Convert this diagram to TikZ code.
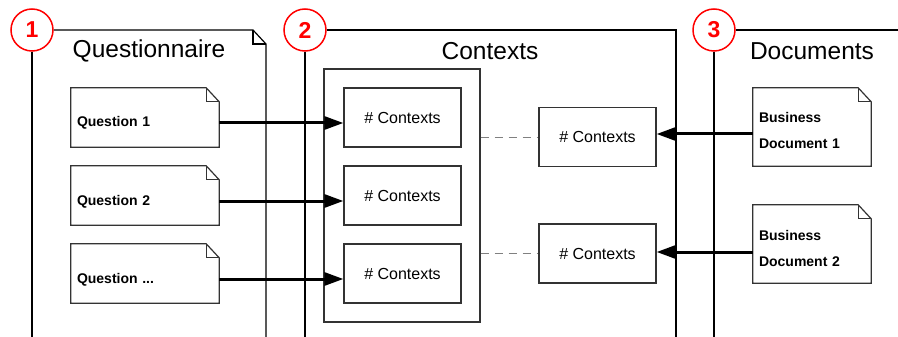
\documentclass[tikz,border=0pt]{standalone}
\usepackage{fontspec}
\setmainfont{Liberation Sans}
\usetikzlibrary{arrows.meta}
\begin{document}
\begin{tikzpicture}[x=1pt,y=-1pt,
  frame/.style={line width=1.2pt, black},
  num/.style={circle, draw=red, line width=1.5pt, fill=white, minimum size=42pt, inner sep=0pt, text=red, font=\fontsize{23}{27}\selectfont\bfseries},
  title/.style={font=\fontsize{24.5}{29}\selectfont, inner sep=0pt},
  boxline/.style={draw=black!80, line width=1.2pt},
  qdoc/.style={inner xsep=6pt, inner ysep=0pt, text width=136pt, minimum height=59pt, align=left, font=\fontsize{14}{17}\selectfont\bfseries, text height=22pt, text depth=3pt},
  bdoc/.style={inner xsep=6pt, inner ysep=0pt, text width=106pt, minimum height=78pt, align=left, font=\fontsize{14}{26}\selectfont\bfseries, text height=21pt, text depth=29pt},
  ctx/.style={boxline, fill=white, minimum width=117pt, minimum height=59pt, inner sep=0pt, font=\fontsize{16}{19}\selectfont},
  arr/.style={line width=3pt, -{Triangle[length=19pt, width=13pt]}},
  dashlink/.style={draw=black!50, line width=1pt, dash pattern=on 8pt off 6pt}
]
\useasboundingbox (0,0) rectangle (898,337);

% circles
\node[num] (n1) at (32,30) {1};
\node[num] (n2) at (305,30) {2};
\node[num] (n3) at (714,30) {3};

% frames
\draw[frame] (n1.south) -- (32,337);
\draw[frame] (n1.east) -- (253,30) -- (266,44) -- (266,337);
\draw[frame] (253,30) -- (253,44) -- (266,44);
\draw[frame] (n2.south) -- (305,337);
\draw[frame] (n2.east) -- (676,30) -- (676,337);
\draw[frame] (n3.south) -- (714,337);
\draw[frame] (n3.east) -- (898,30);

% titles
\node[title] (t1) at (149,51) {Questionnaire};
\node[title] (t2) at (490,51) {Contexts};
\node[title] (t3) at (812,51) {Documents};

% container
\node[boxline, minimum width=156pt, minimum height=253pt, inner sep=0pt] (cont) at (402,195.5) {};

% question docs
\node[qdoc] (q1) at (145,117.5) {Question 1};
\node[qdoc] (q2) at (145,195.5) {Question 2};
\node[qdoc] (q3) at (145,273.5) {Question ...};

% business docs
\node[bdoc] (b1) at (812,127) {Business\\Document 1};
\node[bdoc] (b2) at (812,244) {Business\\Document 2};

\foreach \n in {q1,q2,q3,b1,b2}{
  \draw[boxline] (\n.north west) -- ([xshift=-13pt]\n.north east) -- ([yshift=-14pt]\n.north east) -- (\n.south east) -- (\n.south west) -- cycle;
  \draw[boxline] ([xshift=-13pt]\n.north east) -- ([xshift=-13pt,yshift=-14pt]\n.north east) -- ([yshift=-14pt]\n.north east);
}

% context boxes
\node[ctx] (c1) at (402.5,117.5) {\# Contexts};
\node[ctx] (c2) at (402.5,195.5) {\# Contexts};
\node[ctx] (c3) at (402.5,273.5) {\# Contexts};
\node[ctx] (r1) at (597.5,137) {\# Contexts};
\node[ctx] (r2) at (597.5,253.5) {\# Contexts};

% arrows
\draw[arr] ([yshift=-5.5pt]q1.east) -- ([yshift=-5.5pt]c1.west);
\draw[arr] ([yshift=-5.5pt]q2.east) -- ([yshift=-5.5pt]c2.west);
\draw[arr] ([yshift=-5.5pt]q3.east) -- ([yshift=-5.5pt]c3.west);
\draw[arr] ([yshift=-7pt]b1.west) -- ([yshift=3pt]r1.east);
\draw[arr] ([yshift=-8pt]b2.west) -- ([yshift=1.5pt]r2.east);

% dashed links
\draw[dashlink] (cont.east |- r1.west) -- (r1.west);
\draw[dashlink] (cont.east |- r2.west) -- (r2.west);
\end{tikzpicture}
\end{document}
